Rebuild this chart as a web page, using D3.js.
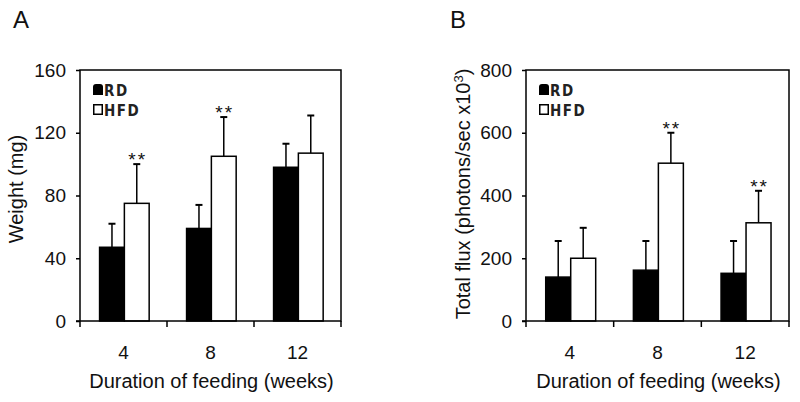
<!DOCTYPE html>
<html>
<head>
<meta charset="utf-8">
<script src="https://cdn.jsdelivr.net/npm/d3@7"></script>
<style>
  body { margin: 0; background: #fff; }
  svg { display: block; font-family: "Liberation Sans", Arial, sans-serif; fill: #111; }
</style>
</head>
<body>
<script>
// values
var weeks = ['4', '8', '12'];
var series = ['RD', 'HFD'];

var weightRD = [47, 59, 98];
var weightRDErr = [15, 15, 15];
var weightHFD = [75, 105, 107];
var weightHFDErr = [25, 25, 24];
var weightStars = ['**', '**', ''];
var weightTicks = [0, 40, 80, 120, 160];

var fluxRD = [140, 162, 152];
var fluxRDErr = [115, 93, 103];
var fluxHFD = [200, 503, 313];
var fluxHFDErr = [97, 97, 102];
var fluxStars = ['', '**', '**'];
var fluxTicks = [0, 200, 400, 600, 800];

var svg = d3.select('body').append('svg')
    .attr('width', 800)
    .attr('height', 402);

function draw_panel(p){
    var x = d3.scaleBand().domain(weeks).range([p.left, p.right]).padding(0);
    var bw = x.bandwidth();
    var xs = d3.scaleBand().domain(series).range([bw*0.225, bw*0.795]).padding(0);
    var y = d3.scaleLinear().domain([0, p.ticks[p.ticks.length-1]]).range([321, 70]);

    var g = svg.append('g');

    // panel letter
    g.append('text')
        .attr('x', p.letterX).attr('y', 28)
        .style('font-size', '24px')
        .text(p.letter);

    var rows = weeks.map(function(w, i){
        return [
            {week: w, s: 'RD', v: p.rd[i], e: p.rdErr[i], star: ''},
            {week: w, s: 'HFD', v: p.hfd[i], e: p.hfdErr[i], star: p.stars[i]}
        ];
    });
    var data = [].concat.apply([], rows);
    var cx = function(d){ return x(d.week) + xs(d.s) + xs.bandwidth()/2; };

    // error bars (upper only)
    var eb = g.selectAll('.err').data(data).enter().append('g');
    eb.append('line')
        .attr('x1', cx).attr('x2', cx)
        .attr('y1', function(d){ return y(d.v); })
        .attr('y2', function(d){ return y(d.v + d.e); })
        .style('stroke', '#000').style('stroke-width', 1.5);
    eb.append('line')
        .attr('x1', function(d){ return cx(d) - 3.5; })
        .attr('x2', function(d){ return cx(d) + 3.5; })
        .attr('y1', function(d){ return y(d.v + d.e); })
        .attr('y2', function(d){ return y(d.v + d.e); })
        .style('stroke', '#000').style('stroke-width', 2);

    // bars
    g.selectAll('.bar').data(data).enter().append('rect')
        .attr('x', function(d){ return x(d.week) + xs(d.s); })
        .attr('y', function(d){ return y(d.v); })
        .attr('width', xs.bandwidth())
        .attr('height', function(d){ return y(0) - y(d.v); })
        .style('fill', function(d){ return d.s == 'RD' ? '#000' : '#fff'; })
        .style('stroke', '#000')
        .style('stroke-width', 1.5);

    // significance stars
    g.selectAll('.star').data(data.filter(function(d){ return d.star; })).enter()
        .append('text')
        .attr('x', function(d){ return cx(d) + 1; })
        .attr('y', function(d){ return y(d.v + d.e) + 2; })
        .attr('text-anchor', 'middle')
        .style('font-size', '19px')
        .style('letter-spacing', '2px')
        .text(function(d){ return d.star; });

    // frame
    g.append('rect')
        .attr('x', p.left).attr('y', 70)
        .attr('width', p.right - p.left).attr('height', 251)
        .style('fill', 'none').style('stroke', '#000').style('stroke-width', 1.5);

    // y axis
    var ya = g.append('g')
        .attr('transform', 'translate(' + p.left + ',0)')
        .call(d3.axisLeft(y).tickValues(p.ticks).tickSize(4).tickPadding(10).tickSizeOuter(0));
    ya.select('.domain').remove();
    ya.selectAll('line').style('stroke-width', 1.5);
    ya.selectAll('text').style('font-size', '19px').style('fill', '#111')
        .style('font-family', '"Liberation Sans", Arial, sans-serif');

    // x axis labels
    var xa = g.append('g')
        .attr('transform', 'translate(0,321)')
        .call(d3.axisBottom(x).tickSize(0).tickPadding(25));
    xa.select('.domain').remove();
    xa.selectAll('text').style('font-size', '19px').style('fill', '#111')
        .style('font-family', '"Liberation Sans", Arial, sans-serif');

    // x ticks on band boundaries
    var bounds = weeks.map(function(w){ return x(w); }).concat([p.right]);
    g.selectAll('.xt').data(bounds).enter().append('line')
        .attr('x1', function(d){ return d; }).attr('x2', function(d){ return d; })
        .attr('y1', 321).attr('y2', 327)
        .style('stroke', '#000').style('stroke-width', 1.5);
    g.append('line')
        .attr('x1', p.left - 4).attr('x2', p.left)
        .attr('y1', 321).attr('y2', 321)
        .style('stroke', '#000').style('stroke-width', 1.5);

    // axis titles
    g.append('text')
        .attr('x', (p.left + p.right)/2 + 1).attr('y', 388)
        .attr('text-anchor', 'middle')
        .style('font-size', '20px')
        .text('Duration of feeding (weeks)');

    var yt = g.append('text')
        .attr('transform', 'translate(' + p.titleX + ',' + p.titleY + ') rotate(-90)')
        .attr('text-anchor', 'middle')
        .style('font-size', '20px');
    yt.append('tspan').text(p.yTitle);
    if(p.ySup){
        yt.append('tspan').attr('dy', -7).style('font-size', '13px').text(p.ySup);
        yt.append('tspan').attr('dy', 7).text(')');
    }

    // legend
    var lg = g.append('g').attr('transform', 'translate(' + (p.left + 13) + ',84)');
    lg.append('path')
        .attr('d', 'M0,11 V3 Q0,0 3,0 H7 Q10,0 10,3 V11 Z')
        .style('fill', '#000');
    lg.append('rect')
        .attr('x', 0.75).attr('y', 20.75).attr('width', 8.5).attr('height', 9.5)
        .style('fill', '#fff').style('stroke', '#000').style('stroke-width', 1.5);
    lg.selectAll('.lt').data(series).enter().append('text')
        .attr('x', 11).attr('y', function(d, i){ return 11.5 + i*20; })
        .style('font-family', '"DejaVu Sans Condensed", sans-serif')
        .style('font-size', '15px')
        .style('font-weight', 'bold')
        .style('letter-spacing', '1.5px')
        .style('fill', '#222')
        .text(function(d){ return d; });
}

draw_panel({letter: 'A', letterX: 13, left: 80, right: 341,
            rd: weightRD, rdErr: weightRDErr, hfd: weightHFD, hfdErr: weightHFDErr,
            stars: weightStars, ticks: weightTicks,
            yTitle: 'Weight (mg)', ySup: null, titleX: 23, titleY: 189});

draw_panel({letter: 'B', letterX: 450, left: 526, right: 789,
            rd: fluxRD, rdErr: fluxRDErr, hfd: fluxHFD, hfdErr: fluxHFDErr,
            stars: fluxStars, ticks: fluxTicks,
            yTitle: 'Total flux (photons/sec x10', ySup: '3', titleX: 470, titleY: 194});
</script>
</body>
</html>
